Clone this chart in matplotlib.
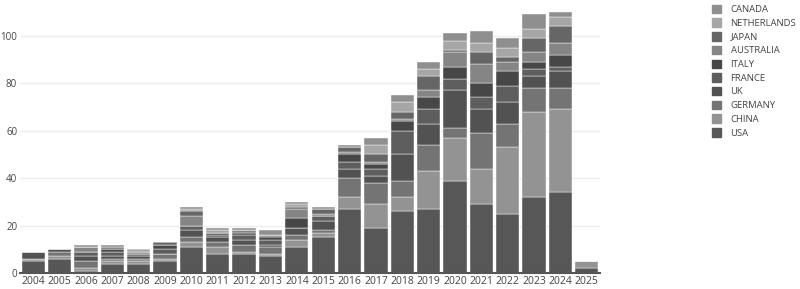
import numpy as np
import matplotlib
matplotlib.use("Agg")
import matplotlib.pyplot as plt
from matplotlib.patches import Patch

plt.rcParams['font.family'] = ['Open Sans', 'DejaVu Sans']

years = [str(y) for y in range(2004, 2026)]

# counts per country (bottom of stack first)
usa         = [5, 6, 1, 4, 4, 5, 11, 8, 8, 7, 11, 15, 27, 19, 26, 27, 39, 29, 25, 32, 34, 2]
china       = [1, 1, 1, 1, 1, 1, 2, 3, 1, 1, 3, 2, 5, 10, 6, 16, 18, 15, 28, 36, 35, 3]
germany     = [0, 2, 3, 1, 1, 2, 2, 2, 3, 3, 2, 1, 8, 9, 7, 11, 4, 15, 10, 10, 9, 0]
uk          = [3, 1, 2, 1, 1, 0, 3, 2, 2, 1, 3, 4, 4, 3, 11, 9, 16, 10, 9, 5, 7, 0]
france      = [0, 0, 2, 2, 1, 2, 2, 1, 2, 2, 0, 2, 3, 3, 10, 6, 5, 5, 7, 3, 2, 0]
italy       = [0, 0, 0, 1, 0, 2, 0, 1, 1, 1, 4, 0, 3, 2, 4, 5, 5, 6, 6, 3, 5, 0]
australia   = [0, 0, 2, 0, 1, 0, 4, 0, 1, 1, 4, 1, 1, 1, 1, 3, 6, 8, 4, 4, 5, 0]
japan       = [0, 0, 0, 1, 0, 1, 2, 0, 0, 0, 1, 2, 2, 3, 3, 6, 1, 5, 2, 6, 7, 0]
netherlands = [0, 0, 0, 0, 1, 0, 1, 1, 0, 0, 1, 0, 0, 4, 4, 3, 4, 4, 4, 4, 4, 0]
canada      = [0, 0, 1, 1, 0, 0, 1, 1, 1, 2, 1, 1, 1, 3, 3, 3, 3, 5, 4, 6, 2, 0]

countries = ["USA", "CHINA", "GERMANY", "UK", "FRANCE", "ITALY",
             "AUSTRALIA", "JAPAN", "NETHERLANDS", "CANADA"]
series = [usa, china, germany, uk, france, italy, australia, japan, netherlands, canada]
colors = ["#575757", "#939393", "#747474", "#525252", "#5e5e5e", "#474747",
          "#858585", "#666666", "#a6a6a6", "#8f8f8f"]

fig = plt.figure(figsize=(8, 2.89), dpi=100)
ax = fig.add_axes([20 / 800, 1 - 273 / 289, 580 / 800, 268 / 289])

x = np.arange(len(years))
bottom = np.zeros(len(years))
for name, vals, c in zip(countries, series, colors):
    ax.bar(x, vals, 0.88, bottom=bottom, color=c, label=name,
           edgecolor="white", linewidth=0.3)
    bottom += np.array(vals)

ax.set_xlim(-0.5, len(years) - 0.5)
ax.set_ylim(0, 113)
ax.set_yticks([0, 20, 40, 60, 80, 100])
ax.set_xticks(x)
ax.set_xticklabels(years)
ax.grid(axis="y", color="#eeeeee", linewidth=1)
ax.set_axisbelow(True)
for s in ["top", "right", "left"]:
    ax.spines[s].set_visible(False)
ax.spines["bottom"].set_color("#555555")
ax.spines["bottom"].set_linewidth(1.5)
ax.tick_params(axis="both", length=0, colors="#444444")
ax.tick_params(axis="x", labelsize=7.5, pad=2)
ax.tick_params(axis="y", labelsize=7, pad=2)

handles = [Patch(color=c) for c in colors][::-1]
labels = countries[::-1]
fig.legend(handles, labels, loc="upper left", bbox_to_anchor=(707 / 800, 1.0),
           frameon=False, fontsize=6.8, handlelength=1.0, handleheight=1.0,
           labelspacing=0.45, handletextpad=1.0, borderaxespad=0.1,
           labelcolor="#444444")

fig.savefig("out.png", dpi=100)
